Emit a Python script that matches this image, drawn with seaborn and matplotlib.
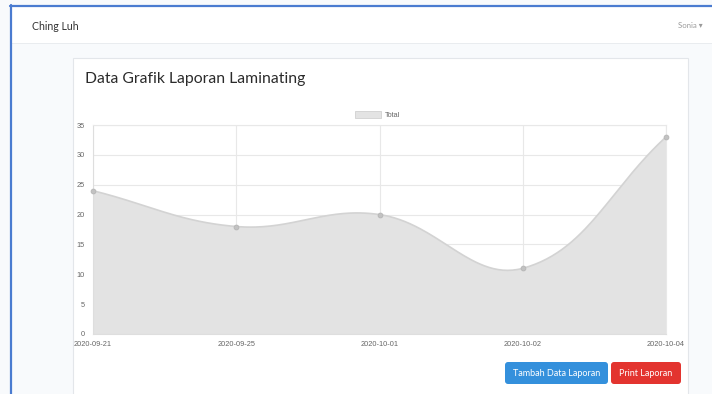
import numpy as np
import pandas as pd
import seaborn as sns
import matplotlib.pyplot as plt
from matplotlib.patches import Rectangle, FancyBboxPatch, Patch
from matplotlib.lines import Line2D
from matplotlib.transforms import IdentityTransform

# ---------------- data ----------------
dates = ["2020-09-21", "2020-09-25", "2020-10-01", "2020-10-02", "2020-10-04"]
totals = [24, 18, 20, 11, 33]
y_ticks = [0, 5, 10, 15, 20, 25, 30, 35]
series_label = "Total"
title = "Data Grafik Laporan Laminating"
brand = "Ching Luh"
user = "Sonia"
button_labels = ["Tambah Data Laporan", "Print Laporan"]

W, H = 712, 394
sns.set_theme(style="white")
plt.rcParams['font.family'] = ['Liberation Sans', 'DejaVu Sans']

fig = plt.figure(figsize=(W / 100, H / 100), dpi=100)
fig.patch.set_facecolor('#f8fafc')
PX = IdentityTransform()


def rect(x, y, w, h, **kw):
    # pixel coords, top-left origin
    p = Rectangle((x, H - y - h), w, h, transform=PX, **kw)
    fig.patches.append(p)
    return p


def txt(x, y, s, **kw):
    return fig.text(x / W, 1 - y / H, s, **kw)


# page chrome
rect(11, 6, W - 11, 37, facecolor='white', edgecolor='none', zorder=-3)
rect(11, 43, W - 11, 1.2, facecolor='#e9ecef', edgecolor='none', zorder=-3)
rect(72.5, 57.5, 615, 345, facecolor='white', edgecolor='#e3e6ea', lw=0.8, zorder=-3)
fig.lines.append(Line2D([10, W], [H - 5.5, H - 5.5], transform=PX, color='#4a7bd0', lw=1.6, zorder=5))
fig.lines.append(Line2D([10.5, 10.5], [0, H - 5], transform=PX, color='#4a7bd0', lw=1.6, zorder=5))

txt(32, 26, brand, fontsize=7.6, color='#333333', va='center', ha='left',
    family=['Lato', 'DejaVu Sans'])
txt(678, 26, user + " \u25be", fontsize=5.6, color='#9a9a9a', va='center', ha='left',
    family=['Lato', 'DejaVu Sans'])
txt(85, 79, title, fontsize=11.3, color='#2b2b2b', va='center', ha='left',
    family=['Lato', 'DejaVu Sans'])

# ---------------- chart ----------------
ax = fig.add_axes([93 / W, 1 - 334 / H, 573 / W, 209 / H])
ax.set_zorder(2)
ax.set_facecolor('none')
xs = np.arange(len(dates))
ax.set_xlim(xs[0], xs[-1])
ax.set_ylim(y_ticks[0], y_ticks[-1])
ax.set_xticks(xs)
ax.set_xticklabels(dates)
ax.set_yticks(y_ticks)
ax.grid(True, color='#e8e8e8', lw=0.8)
for s in ax.spines.values():
    s.set_color('#e8e8e8')
    s.set_linewidth(0.8)
ax.spines['left'].set_color('#dedede')
ax.spines['bottom'].set_color('#dedede')
ax.tick_params(axis='both', length=4, width=0.8, color='#e2e2e2', labelsize=5.3,
               labelcolor='#666666', pad=1)
ax.tick_params(axis='y', length=5)

# Chart.js style spline (tension 0.4) computed in pixel space
P = ax.transData.transform(np.column_stack([xs, totals]).astype(float))
n = len(P)
t = 0.4
cprev = np.zeros_like(P)
cnext = np.zeros_like(P)
x0p, y0p = ax.transData.transform((xs[0], y_ticks[0]))
x1p, y1p = ax.transData.transform((xs[-1], y_ticks[-1]))
for i in range(n):
    prv = P[i - 1] if i > 0 else P[i]
    cur = P[i]
    nxt = P[i + 1] if i < n - 1 else P[i]
    d01 = np.hypot(*(cur - prv))
    d12 = np.hypot(*(nxt - cur))
    tot = d01 + d12
    s01 = d01 / tot if tot else 0
    s12 = d12 / tot if tot else 0
    cprev[i] = cur - t * s01 * (nxt - prv)
    cnext[i] = cur + t * s12 * (nxt - prv)
for c in (cprev, cnext):
    c[:, 0] = np.clip(c[:, 0], x0p, x1p)
    c[:, 1] = np.clip(c[:, 1], y0p, y1p)

u = np.linspace(0, 1, 60)[:, None]
curve = []
for i in range(n - 1):
    a, b, c, d = P[i], cnext[i], cprev[i + 1], P[i + 1]
    seg = (1 - u) ** 3 * a + 3 * (1 - u) ** 2 * u * b + 3 * (1 - u) * u ** 2 * c + u ** 3 * d
    curve.append(seg if i == 0 else seg[1:])
curve = ax.transData.inverted().transform(np.vstack(curve))
cdf = pd.DataFrame({'x': curve[:, 0], 'y': curve[:, 1]})

ax.fill(np.r_[cdf.x, cdf.x.iloc[-1], cdf.x.iloc[0]], np.r_[cdf.y, 0, 0],
        color='#e3e3e3', lw=0, zorder=1)
sns.lineplot(data=cdf, x='x', y='y', sort=False, estimator=None, ax=ax,
             color='#d3d3d3', lw=1.2, zorder=2)
sns.scatterplot(x=xs, y=totals, ax=ax, s=12, color='#c2c2c2', edgecolor='#b5b5b5',
                linewidth=0.6, zorder=3, clip_on=False)
ax.set_xlabel('')
ax.set_ylabel('')

leg = ax.legend(handles=[Patch(facecolor='#e3e3e3', edgecolor='#d0d0d0', lw=0.6)],
                labels=[series_label], loc='center', bbox_to_anchor=(0.497, 1 + 10 / 209),
                frameon=False, fontsize=5.3, handlelength=3.5, handleheight=1.1,
                handletextpad=0.5, borderaxespad=0)
for tx in leg.get_texts():
    tx.set_color('#666666')

# ---------------- buttons ----------------
btns = [(505, 362, 103, 22, '#3490dc'), (611, 362, 70, 22, '#e3342f')]
for (bx, by, bw, bh, col), lab in zip(btns, button_labels):
    fb = FancyBboxPatch((bx, H - by - bh), bw, bh, boxstyle='round,pad=0,rounding_size=3',
                        transform=PX, facecolor=col, edgecolor='none', zorder=-2)
    fig.patches.append(fb)
    txt(bx + bw / 2, by + bh / 2, lab, fontsize=6.5, color='white', ha='center',
        va='center', family=['Lato', 'DejaVu Sans'])

fig.savefig('out.png', dpi=100, facecolor=fig.get_facecolor())
